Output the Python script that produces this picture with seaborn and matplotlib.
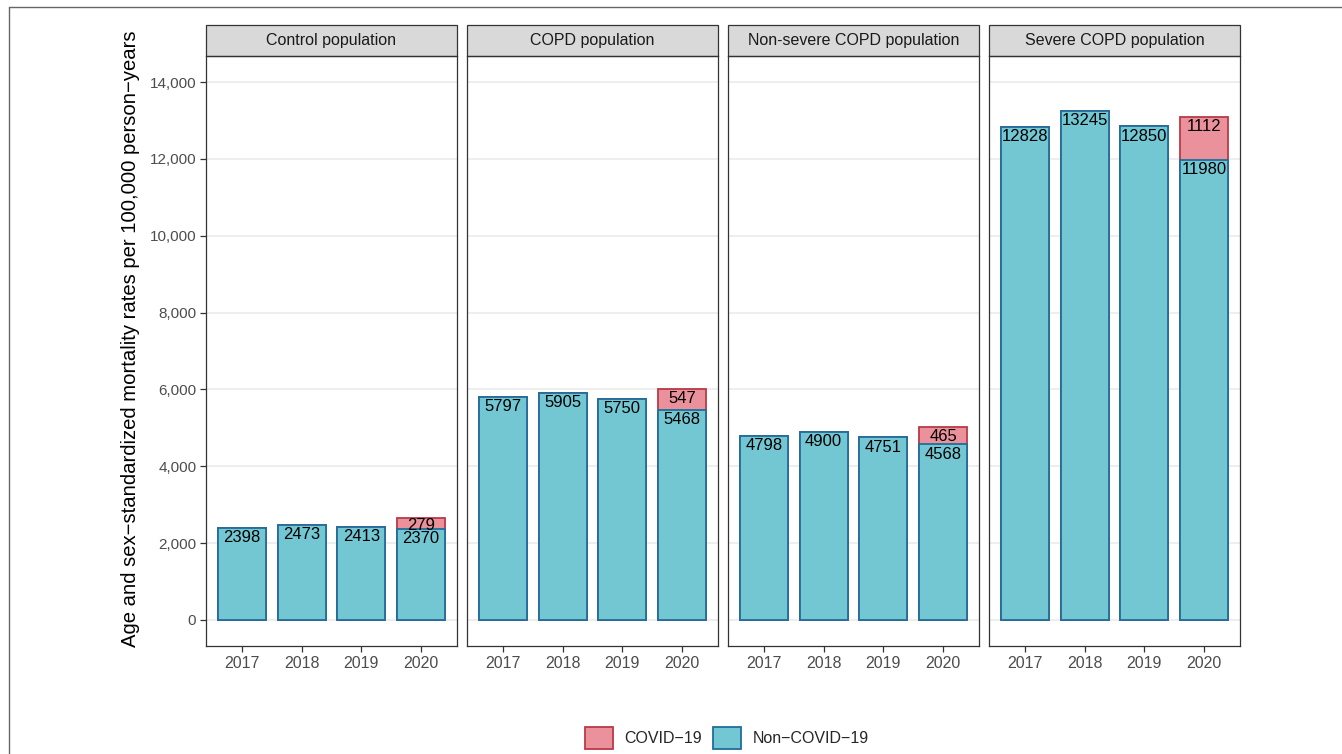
import matplotlib
matplotlib.use("Agg")
import matplotlib.pyplot as plt
import seaborn as sns
import pandas as pd
from matplotlib.patches import Rectangle, Patch
from matplotlib.lines import Line2D
from matplotlib.ticker import FuncFormatter

# data
years = ["2017", "2018", "2019", "2020"]
populations = ["Control population", "COPD population",
               "Non-severe COPD population", "Severe COPD population"]
non_covid = {
    "Control population": [2398, 2473, 2413, 2370],
    "COPD population": [5797, 5905, 5750, 5468],
    "Non-severe COPD population": [4798, 4900, 4751, 4568],
    "Severe COPD population": [12828, 13245, 12850, 11980],
}
covid = {
    "Control population": [0, 0, 0, 279],
    "COPD population": [0, 0, 0, 547],
    "Non-severe COPD population": [0, 0, 0, 465],
    "Severe COPD population": [0, 0, 0, 1112],
}
y_ticks = [0, 2000, 4000, 6000, 8000, 10000, 12000, 14000]

TEAL = "#72C7D3"
TEAL_EDGE = "#1F6E9C"
RED = "#EB919C"
RED_EDGE = "#B83A45"
FRAME = "#333333"

rows = []
for pop in populations:
    for yr, n, c in zip(years, non_covid[pop], covid[pop]):
        rows.append({"population": pop, "year": yr, "non_covid": n,
                     "covid": c, "total": n + c})
df = pd.DataFrame(rows)

sns.set_theme(style="white")
plt.rcParams["font.family"] = ["Liberation Sans", "DejaVu Sans"]

W, H = 1342, 754
fig = plt.figure(figsize=(W / 100, H / 100), dpi=100)

panel_left = [206, 467, 728, 989]
panel_w = 251
panel_top, panel_bottom = 56, 646
strip_h = 31
ph = panel_bottom - panel_top

axes = []
for i, pop in enumerate(populations):
    ax = fig.add_axes([panel_left[i] / W, (H - panel_bottom) / H, panel_w / W, ph / H])
    axes.append(ax)
    sub = df[df["population"] == pop]

    # red total bars first, teal non-covid bars painted over them
    sns.barplot(data=sub, x="year", y="total", color=RED, saturation=1,
                edgecolor=RED_EDGE, linewidth=1.3, width=0.8, errorbar=None, ax=ax)
    sns.barplot(data=sub, x="year", y="non_covid", color=TEAL, saturation=1,
                edgecolor=TEAL_EDGE, linewidth=1.3, width=0.8, errorbar=None, ax=ax)

    for j, (n, c) in enumerate(zip(sub["non_covid"], sub["covid"])):
        ax.annotate(str(n), xy=(j, n), xytext=(0, -7), textcoords="offset points",
                    ha="center", va="center", fontsize=12, color="black")
        if c > 0:
            ax.annotate(str(c), xy=(j, n + c), xytext=(0, -5.5 if c < 400 else -7),
                        textcoords="offset points", ha="center", va="center",
                        fontsize=12, color="black")

    ax.set_xlim(-0.6, 3.6)
    ax.set_ylim(-680, 14680)
    ax.set_yticks(y_ticks)
    ax.yaxis.grid(True, color="#EBEBEB", linewidth=1.2)
    ax.xaxis.grid(False)
    ax.set_axisbelow(True)
    ax.set_xlabel("")
    ax.set_ylabel("")
    for sp in ax.spines.values():
        sp.set_color(FRAME)
        sp.set_linewidth(0.9)
    ax.tick_params(axis="x", length=4, width=0.9, color=FRAME, labelcolor="#4D4D4D",
                   labelsize=11.5, pad=3, bottom=True)
    if i == 0:
        ax.tick_params(axis="y", length=4, width=0.9, color=FRAME, labelcolor="#4D4D4D",
                       labelsize=11, pad=3, left=True)
        ax.yaxis.set_major_formatter(FuncFormatter(lambda v, p: f"{int(v):,}"))
    else:
        ax.tick_params(axis="y", left=False, labelleft=False)

    # facet strip
    ax.add_patch(Rectangle((0, 1), 1, strip_h / ph, transform=ax.transAxes, clip_on=False,
                           facecolor="#D9D9D9", edgecolor=FRAME, linewidth=0.9))
    ax.text(0.5, 1 + strip_h / ph / 2, pop, transform=ax.transAxes, ha="center",
            va="center", fontsize=11.5, color="#1A1A1A")

fig.text(131 / W, 1 - 339 / H,
         "Age and sex\u2212standardized mortality rates per 100,000 person\u2212years",
         rotation=90, ha="center", va="center", fontsize=14.6, color="black")

handles = [Patch(facecolor=RED, edgecolor=RED_EDGE, linewidth=1.3, label="COVID\u221219"),
           Patch(facecolor=TEAL, edgecolor=TEAL_EDGE, linewidth=1.3, label="Non\u2212COVID\u221219")]
fig.legend(handles=handles, loc="center", bbox_to_anchor=(727 / W, 1 - 738 / H), ncol=2,
           frameon=False, fontsize=11.5, handlelength=1.75, handleheight=1.75,
           handletextpad=0.7, columnspacing=0.7)

# outer frame of the original figure
fig.add_artist(Line2D([9 / W, 9 / W], [0, 1 - 7 / H], transform=fig.transFigure,
                      color="#666666", linewidth=1))
fig.add_artist(Line2D([9 / W, 1], [1 - 7 / H, 1 - 7 / H], transform=fig.transFigure,
                      color="#666666", linewidth=1))

fig.savefig("out.png", dpi=100)
